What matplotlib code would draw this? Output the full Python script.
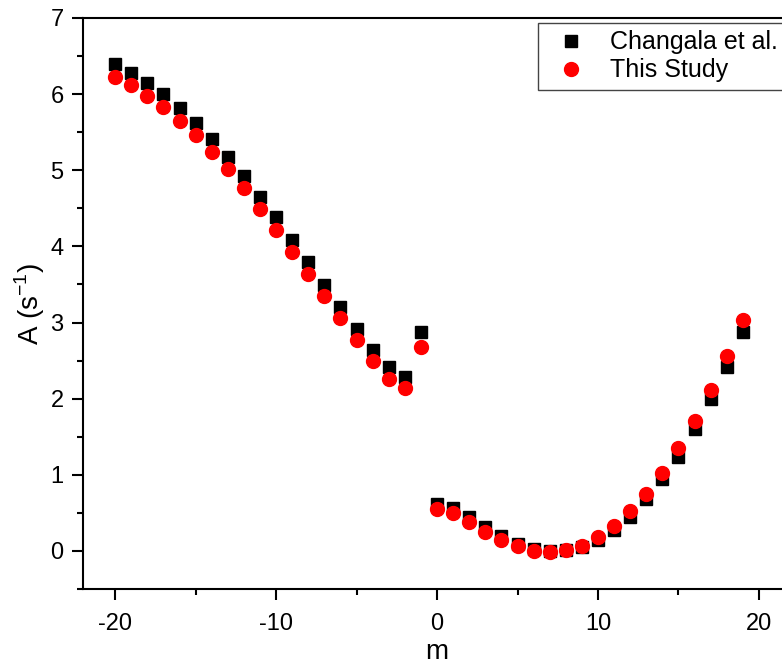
import matplotlib
matplotlib.use('Agg')
import matplotlib.pyplot as plt
from matplotlib.ticker import MultipleLocator
import numpy as np

plt.rcParams['font.family'] = ['Liberation Sans', 'DejaVu Sans']
plt.rcParams['axes.unicode_minus'] = False
plt.rcParams['mathtext.fontset'] = 'custom'
plt.rcParams['mathtext.rm'] = 'Liberation Sans'

m = list(range(-20, 0)) + list(range(0, 20))

changala = [6.39, 6.28, 6.15, 6.00, 5.82, 5.62, 5.41, 5.17, 4.92, 4.65,
            4.38, 4.09, 3.79, 3.49, 3.21, 2.92, 2.64, 2.42, 2.29, 2.87,
            0.62, 0.57, 0.44, 0.31, 0.19, 0.09, 0.03, 0.00, 0.01, 0.05,
            0.14, 0.28, 0.45, 0.68, 0.94, 1.24, 1.60, 1.99, 2.42, 2.88]

this_study = [6.22, 6.12, 5.98, 5.83, 5.65, 5.46, 5.24, 5.01, 4.77, 4.49,
              4.21, 3.93, 3.64, 3.35, 3.06, 2.77, 2.50, 2.26, 2.14, 2.68,
              0.55, 0.50, 0.38, 0.25, 0.15, 0.06, 0.00, -0.01, 0.01, 0.07,
              0.18, 0.33, 0.52, 0.75, 1.03, 1.35, 1.71, 2.11, 2.56, 3.03]

fig = plt.figure(figsize=(7.82, 6.66), dpi=100)
ax = fig.add_axes([0.1061, 0.1156, 0.9056, 0.8574])

ax.plot(m, changala, 's', color='black', markersize=8.6, label='Changala et al.')
ax.plot(m, this_study, 'o', color='red', markersize=10, label='This Study')

ax.set_xlim(-22, 22)
ax.set_ylim(-0.5, 7)
ax.xaxis.set_major_locator(MultipleLocator(10))
ax.xaxis.set_minor_locator(MultipleLocator(5))
ax.yaxis.set_major_locator(MultipleLocator(1))
ax.yaxis.set_minor_locator(MultipleLocator(0.5))

for s in ax.spines.values():
    s.set_linewidth(1.5)
ax.tick_params(which='major', direction='out', length=8, width=1.5, labelsize=17, pad=6)
ax.tick_params(axis='x', which='major', pad=9)
ax.tick_params(which='minor', direction='out', length=4, width=1.5)

ax.set_xlabel('m', fontsize=20, labelpad=3)
ax.set_ylabel('A (s$^{\\mathrm{-1}}$)', fontsize=20, labelpad=2)

leg = ax.legend(loc='upper left', bbox_to_anchor=(538 / 782, 1 - 23 / 666),
                bbox_transform=fig.transFigure, fontsize=18, frameon=True,
                fancybox=False, edgecolor='#444444', framealpha=1,
                handletextpad=0.6, borderpad=0.3, labelspacing=0.15,
                borderaxespad=0)
leg.get_frame().set_linewidth(1.0)

fig.savefig('out.png', dpi=100)
